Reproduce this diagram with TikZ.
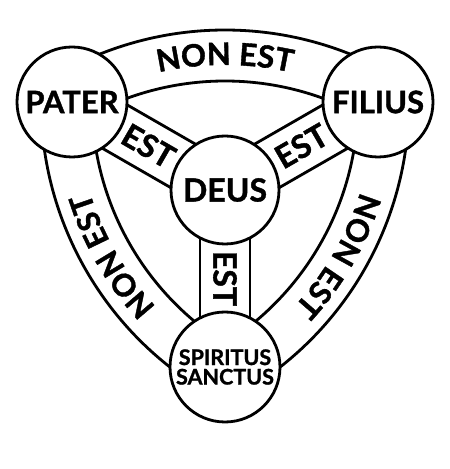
\documentclass[tikz,border=0pt]{standalone}
\usepackage{fontspec}
\setmainfont{Lato}[BoldFeatures={FakeBold=1.2}]
\usetikzlibrary{calc,backgrounds,decorations.text}
\newcommand\bandfont{\fontsize{31}{31}\selectfont\bfseries}
\tikzset{
  ink/.style={line width=2.8pt, black},
  bignode/.style={circle, draw, ink, fill=white, minimum size=110pt, inner sep=0pt, align=center},
  namefont/.style={font=\fontsize{31}{31}\selectfont\bfseries},
  estlabel/.style={inner sep=0pt, font=\fontsize{32}{32}\selectfont\bfseries},
  bandtext/.style={decorate, decoration={text along path, text align=center, text={|\bandfont|NON EST}}}
}
\begin{document}
\begin{tikzpicture}[x=1pt,y=1pt]
\useasboundingbox (0,0) rectangle (450,469);
% nodes
\node[bignode, namefont] (pater) at (72,367) {PATER};
\node[bignode, namefont] (filius) at (378,367) {FILIUS};
\node[bignode, font=\fontsize{21.5}{21.5}\selectfont\bfseries] (spirit) at (225,102) {SPIRITUS\\[-2pt]SANCTUS};
\node[bignode, minimum size=108pt, font=\fontsize{32}{32}\selectfont\bfseries] (deus) at (225,279) {DEUS};
\begin{pgfonlayer}{background}
  % outer bands
  \draw[ink] ([shift={(120:337pt)}]spirit.center) arc[start angle=120, end angle=60, radius=337pt];
  \draw[ink] ([shift={(120:286pt)}]spirit.center) arc[start angle=120, end angle=60, radius=286pt];
  \draw[ink] ([shift={(180:337pt)}]filius.center) arc[start angle=180, end angle=240, radius=337pt];
  \draw[ink] ([shift={(180:286pt)}]filius.center) arc[start angle=180, end angle=240, radius=286pt];
  \draw[ink] ([shift={(300:337pt)}]pater.center) arc[start angle=300, end angle=360, radius=337pt];
  \draw[ink] ([shift={(300:286pt)}]pater.center) arc[start angle=300, end angle=360, radius=286pt];
  % spokes
  \draw[ink] ($(deus.center)!25pt!90:(pater.center)$) -- ($(pater.center)!25pt!-90:(deus.center)$);
  \draw[ink] ($(deus.center)!25pt!-90:(pater.center)$) -- ($(pater.center)!25pt!90:(deus.center)$);
  \draw[ink] ($(deus.center)!25pt!90:(filius.center)$) -- ($(filius.center)!25pt!-90:(deus.center)$);
  \draw[ink] ($(deus.center)!25pt!-90:(filius.center)$) -- ($(filius.center)!25pt!90:(deus.center)$);
  \draw[ink] ($(deus.center)!25pt!90:(spirit.center)$) -- ($(spirit.center)!25pt!-90:(deus.center)$);
  \draw[ink] ($(deus.center)!25pt!-90:(spirit.center)$) -- ($(spirit.center)!25pt!90:(deus.center)$);
\end{pgfonlayer}
% band texts
\path[bandtext] ([shift={(118:302pt)}]spirit.center) arc[start angle=118, end angle=62, radius=302pt];
\path[bandtext] ([shift={(238:302pt)}]filius.center) arc[start angle=238, end angle=182, radius=302pt];
\path[bandtext] ([shift={(-2:302pt)}]pater.center) arc[start angle=-2, end angle=-58, radius=302pt];
% spoke texts
\node[estlabel, rotate=-30] (est1) at ($(pater.center)!0.5!(deus.center)$) {EST};
\node[estlabel, rotate=30] (est2) at ($(filius.center)!0.5!(deus.center)$) {EST};
\node[estlabel, rotate=-90] (est3) at ($(spirit.center)!0.5!(deus.center)$) {EST};
\end{tikzpicture}
\end{document}
